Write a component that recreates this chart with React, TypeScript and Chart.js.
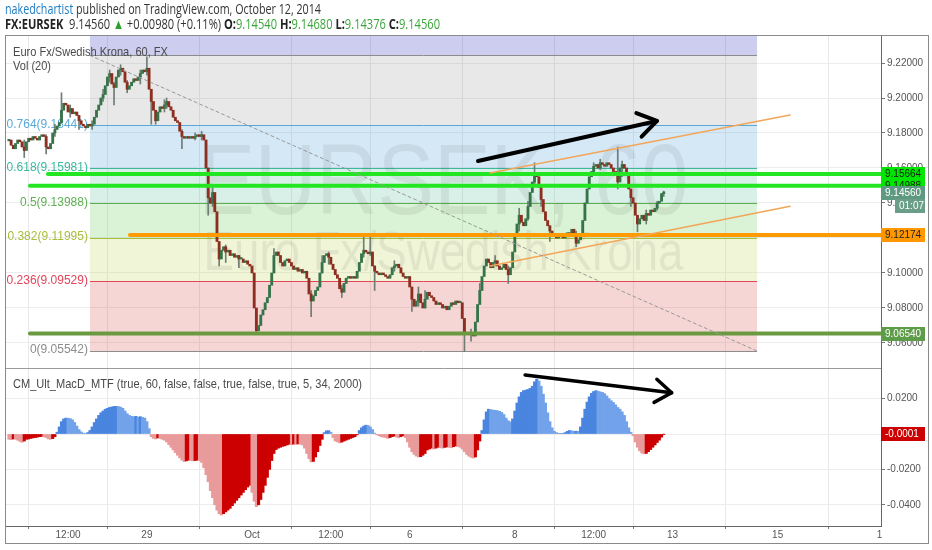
import React, { useEffect, useRef } from 'react';
import { Chart, registerables } from 'chart.js';

Chart.register(...registerables);

// ---------------- data ----------------
// hour index of the first bar, relative to Oct 1 00:00 (weekend hours removed)
const FIRST_HOUR = -111;
const FIRST_OPEN = 9.1755;
const CLOSES = [
  9.176, 9.173, 9.171, 9.174, 9.176, 9.175, 9.172, 9.170, 9.175, 9.177,
  9.176, 9.178, 9.177, 9.176, 9.178, 9.179, 9.178, 9.172, 9.171, 9.174,
  9.180, 9.182, 9.184, 9.186, 9.193, 9.197, 9.196, 9.192, 9.194, 9.191,
  9.192, 9.190, 9.187, 9.185, 9.184, 9.183, 9.185, 9.184, 9.185, 9.189,
  9.193, 9.196, 9.200, 9.202, 9.207, 9.212, 9.214, 9.208, 9.206, 9.212,
  9.216, 9.217, 9.215, 9.209, 9.205, 9.207, 9.209, 9.211, 9.210, 9.212,
  9.214, 9.216, 9.215, 9.217, 9.205, 9.198, 9.193, 9.187, 9.192, 9.195,
  9.194, 9.196, 9.198, 9.195, 9.193, 9.189, 9.187, 9.186, 9.181, 9.178,
  9.177, 9.178, 9.177, 9.178, 9.177, 9.178, 9.179, 9.178, 9.179, 9.176,
  9.160, 9.143, 9.140, 9.146, 9.135, 9.118, 9.108, 9.113, 9.115, 9.112,
  9.113, 9.110, 9.111, 9.109, 9.110, 9.108, 9.108, 9.106, 9.107, 9.105,
  9.104, 9.100, 9.080, 9.067, 9.070, 9.076, 9.079, 9.083, 9.086, 9.093,
  9.100, 9.110, 9.112, 9.110, 9.106, 9.104, 9.107, 9.108, 9.106, 9.104,
  9.102, 9.103, 9.101, 9.102, 9.100, 9.101, 9.097, 9.088, 9.084, 9.087,
  9.090, 9.092, 9.100, 9.106, 9.110, 9.111, 9.109, 9.105, 9.102, 9.099,
  9.097, 9.091, 9.089, 9.094, 9.097, 9.098, 9.097, 9.098, 9.097, 9.101,
  9.106, 9.111, 9.113, 9.112, 9.111, 9.112, 9.104, 9.101, 9.100, 9.099,
  9.100, 9.099, 9.098, 9.097, 9.099, 9.103, 9.104, 9.105, 9.103, 9.100,
  9.098, 9.097, 9.098, 9.092, 9.085, 9.081, 9.084, 9.088, 9.083, 9.080,
  9.085, 9.089, 9.087, 9.086, 9.084, 9.082, 9.083, 9.082, 9.080, 9.081,
  9.079, 9.081, 9.083, 9.082, 9.084, 9.083, 9.083, 9.074, 9.066, 9.065,
  9.066, 9.065, 9.064, 9.072, 9.082, 9.090, 9.098, 9.104, 9.108, 9.106,
  9.103, 9.106, 9.107, 9.104, 9.102, 9.103, 9.105, 9.102, 9.099, 9.103,
  9.112, 9.122, 9.128, 9.133, 9.129, 9.127, 9.131, 9.138, 9.146, 9.152,
  9.156, 9.155, 9.149, 9.142, 9.135, 9.130, 9.127, 9.124, 9.121, 9.122,
  9.120, 9.121, 9.122, 9.120, 9.121, 9.123, 9.122, 9.125, 9.122, 9.117,
  9.119, 9.121, 9.130, 9.140, 9.148, 9.155, 9.158, 9.161, 9.162, 9.160,
  9.163, 9.162, 9.161, 9.163, 9.162, 9.160, 9.158, 9.156, 9.152, 9.160,
  9.162, 9.160, 9.156, 9.148, 9.143, 9.140, 9.133, 9.128, 9.131, 9.133,
  9.130, 9.134, 9.133, 9.136, 9.135, 9.137, 9.140, 9.141, 9.1454, 9.1456,
];
// [bar index, high, low] for bars whose wicks reach beyond the body
const WICKS = [
  [7, 9.176, 9.166], [17, 9.179, 9.168], [21, 9.185, 9.178], [24, 9.203, 9.186],
  [28, 9.196, 9.189], [32, 9.19, 9.182], [38, 9.187, 9.182], [43, 9.205, 9.198],
  [46, 9.216, 9.209], [48, 9.209, 9.196], [51, 9.219, 9.213], [54, 9.21, 9.203],
  [60, 9.216, 9.208], [63, 9.2235, 9.213], [65, 9.204, 9.185], [67, 9.19, 9.185],
  [71, 9.199, 9.192], [72, 9.2, 9.194], [79, 9.182, 9.171], [85, 9.18, 9.176],
  [88, 9.181, 9.176], [91, 9.146, 9.133], [93, 9.15, 9.138], [96, 9.114, 9.104],
  [99, 9.116, 9.106], [105, 9.11, 9.103], [113, 9.072, 9.066], [121, 9.114, 9.108],
  [138, 9.09, 9.075], [143, 9.11, 9.1], [146, 9.112, 9.105], [152, 9.093, 9.086],
  [162, 9.122, 9.109], [165, 9.122, 9.11], [167, 9.104, 9.09], [176, 9.107, 9.101],
  [184, 9.092, 9.078], [187, 9.092, 9.081], [190, 9.09, 9.08], [208, 9.074, 9.055],
  [211, 9.068, 9.061], [215, 9.094, 9.085], [222, 9.11, 9.104], [228, 9.104, 9.094],
  [233, 9.137, 9.124], [237, 9.141, 9.13], [240, 9.163, 9.15], [243, 9.148, 9.138],
  [247, 9.127, 9.118], [259, 9.124, 9.115], [267, 9.163, 9.157], [270, 9.165, 9.159],
  [278, 9.172, 9.148], [280, 9.164, 9.155], [284, 9.147, 9.138], [287, 9.132, 9.1235],
  [291, 9.136, 9.128], [296, 9.141, 9.136], [299, 9.1468, 9.14376],
];
const MACD_HIST = [
  -0.0030, -0.0032, -0.0028, -0.0030, -0.0035, -0.0042, -0.0047, -0.0040, -0.0030, -0.0028,
  -0.0025, -0.0022, -0.0020, -0.0018, -0.0015, -0.0014, -0.0016, -0.0020, -0.0028, -0.0030,
  -0.0026, -0.0015, 0.0010, 0.0040, 0.0070, 0.0085, 0.0090, 0.0089, 0.0087, 0.0080,
  0.0065, 0.0045, 0.0025, 0.0012, 0.0005, 0.0003, 0.0008, 0.0020, 0.0040, 0.0065,
  0.0085, 0.0105, 0.0120, 0.0130, 0.0140, 0.0145, 0.0150, 0.0153, 0.0156, 0.0156,
  0.0155, 0.0152, 0.0145, 0.0130, 0.0115, 0.0105, 0.0100, 0.0098, 0.0100, 0.0095,
  0.0098, 0.0094, 0.0090, 0.0070, 0.0030, -0.0015, -0.0025, -0.0028, -0.0022, -0.0025,
  -0.0030, -0.0035, -0.0045, -0.0060, -0.0075, -0.0090, -0.0105, -0.0120, -0.0135, -0.0148,
  -0.0156, -0.0152, -0.0148, -0.0150, -0.0152, -0.0150, -0.0148, -0.0150, -0.0160, -0.0190,
  -0.0230, -0.0270, -0.0320, -0.0360, -0.0400, -0.0430, -0.0450, -0.0458, -0.0450, -0.0440,
  -0.0430, -0.0420, -0.0405, -0.0390, -0.0375, -0.0360, -0.0345, -0.0330, -0.0315, -0.0300,
  -0.0290, -0.0330, -0.0380, -0.0410, -0.0400, -0.0370, -0.0330, -0.0290, -0.0245, -0.0200,
  -0.0150, -0.0110, -0.0088, -0.0080, -0.0075, -0.0070, -0.0067, -0.0062, -0.0058, -0.0060,
  -0.0057, -0.0059, -0.0056, -0.0058, -0.0062, -0.0080, -0.0110, -0.0140, -0.0158, -0.0155,
  -0.0130, -0.0100, -0.0065, -0.0030, 0.0008, 0.0018, 0.0019, 0.0010, -0.0020, -0.0040,
  -0.0045, -0.0050, -0.0046, -0.0040, -0.0035, -0.0030, -0.0025, -0.0020, -0.0015, -0.0005,
  0.0020, 0.0035, 0.0045, 0.0050, 0.0048, 0.0040, 0.0025, 0.0005, -0.0005, -0.0010,
  -0.0015, -0.0018, -0.0020, -0.0025, -0.0020, -0.0015, -0.0012, -0.0018, -0.0022, -0.0015,
  -0.0010, -0.0020, -0.0045, -0.0075, -0.0100, -0.0115, -0.0125, -0.0130, -0.0128, -0.0120,
  -0.0110, -0.0090, -0.0085, -0.0080, -0.0085, -0.0080, -0.0075, -0.0078, -0.0080, -0.0076,
  -0.0073, -0.0075, -0.0078, -0.0072, -0.0068, -0.0070, -0.0075, -0.0085, -0.0100, -0.0115,
  -0.0125, -0.0132, -0.0136, -0.0130, -0.0090, -0.0040, 0.0020, 0.0080, 0.0125, 0.0140,
  0.0138, 0.0135, 0.0134, 0.0132, 0.0128, 0.0122, 0.0110, 0.0090, 0.0075, 0.0068,
  0.0085, 0.0130, 0.0175, 0.0210, 0.0235, 0.0245, 0.0248, 0.0252, 0.0258, 0.0270,
  0.0295, 0.0310, 0.0300, 0.0270, 0.0225, 0.0175, 0.0120, 0.0070, 0.0035, 0.0015,
  0.0008, 0.0004, 0.0002, 0.0003, 0.0008, 0.0015, 0.0020, 0.0018, 0.0015, 0.0016,
  0.0015, 0.0040, 0.0090, 0.0140, 0.0180, 0.0210, 0.0230, 0.0240, 0.0245, 0.0242,
  0.0238, 0.0235, 0.0228, 0.0215, 0.0200, 0.0188, 0.0178, 0.0165, 0.0150, 0.0140,
  0.0125, 0.0105, 0.0070, 0.0035, 0.0010, -0.0010, -0.0045, -0.0075, -0.0095, -0.0108,
  -0.0112, -0.0110, -0.0100, -0.0088, -0.0075, -0.0062, -0.0048, -0.0035, -0.0018, -0.0001,
];

const PRICE_TICKS = [9.06, 9.08, 9.1, 9.12, 9.14, 9.16, 9.18, 9.2, 9.22];
const MACD_TICKS = [0.02, 0, -0.02, -0.04];
const TIME_TICKS = [-84, -48, 0, 36, 72, 120, 156, 192, 240, 286.5];
const TIME_LABELS = ['12:00', '29', 'Oct', '12:00', '6', '8', '12:00', '13', '15', '1'];

const FIB_RATIOS = ['1', '0.764', '0.618', '0.5', '0.382', '0.236', '0'];
const FIB_PRICES = [9.22435, 9.18441, 9.15981, 9.13988, 9.11995, 9.09529, 9.05542];
const FIB_SPAN = [-74, 230.6];

const LEVEL_PRICES = [9.15664, 9.14988, 9.12174, 9.0654];
const LEVEL_STARTS = [-93.2, -101.4, -55.7, -101.4];

const CHANNEL_UPPER = [[108.7, 9.1571], [245.7, 9.1903]];
const CHANNEL_LOWER = [[108.7, 9.104], [245.7, 9.1382]];
const FIB_TREND = [[-74, 9.22435], [230.6, 9.05542]];
const ARROW_PRICE = [[103.2, 9.164], [184.9, 9.1869]];
const ARROW_MACD = [[124.7, 0.0333], [191.6, 0.0233]];

const LAST_PRICE = 9.1456;
const BAR_COUNTDOWN = '01:07';
const MACD_LAST = -0.0001;

// ---------------- styles ----------------
const FONT = '"Liberation Sans", Arial, sans-serif';
const HFONT = '"Open Sans", "Liberation Sans", sans-serif';
const FIB_FILLS = [
  'rgba(55,55,195,0.25)', 'rgba(150,150,150,0.22)', 'rgba(87,163,215,0.25)',
  'rgba(99,195,160,0.25)', 'rgba(107,203,87,0.25)', 'rgba(195,215,95,0.25)', 'rgba(219,87,87,0.25)',
];
const FIB_COLORS = ['#8c8c8c', '#5aa8d8', '#3ab8a0', '#5cb052', '#a9bd3c', '#e2445a', '#8c8c8c'];
const LEVEL_COLORS = ['#22e622', '#22e622', '#ff9a00', '#6a9a40'];
const TAG_BG = ['#00e600', '#00e600', '#ff9800', '#5d9c49'];
const TAG_FG = ['#1a1a1a', '#1a1a1a', '#222', '#fff'];

const HEADER1 = [
  { t: 'nakedchartist', c: '#1f7cc2' },
  { t: ' published on TradingView.com, October 12, 2014', c: '#333' },
];
const HEADER2 = [
  { t: 'FX:EURSEK', c: '#222', b: true },
  { t: '  9.14560 ', c: '#333' },
  { t: '\u25B2', c: '#2ca02c' },
  { t: ' +0.00980 (+0.11%) ', c: '#333' },
  { t: 'O:', c: '#222', b: true },
  { t: '9.14540', c: '#3aa53a' },
  { t: ' H:', c: '#222', b: true },
  { t: '9.14680', c: '#3aa53a' },
  { t: ' L:', c: '#222', b: true },
  { t: '9.14376', c: '#3aa53a' },
  { t: ' C:', c: '#222', b: true },
  { t: '9.14560', c: '#3aa53a' },
];

function drawSegs(ctx: any, segs: any[], x: number, y: number, targetW: number, size: number, family: string) {
  ctx.save();
  ctx.textBaseline = 'middle';
  ctx.textAlign = 'left';
  let total = 0;
  for (const s of segs) {
    ctx.font = `${s.b ? 'bold ' : ''}${size}px ${family}`;
    total += ctx.measureText(s.t).width;
  }
  ctx.translate(x, y);
  ctx.scale(targetW / total, 1);
  let cx = 0;
  for (const s of segs) {
    ctx.font = `${s.b ? 'bold ' : ''}${size}px ${family}`;
    ctx.fillStyle = s.c;
    ctx.fillText(s.t, cx, 0);
    cx += ctx.measureText(s.t).width;
  }
  ctx.restore();
}

function tag(ctx: any, yPix: number, text: string, bg: string, fg: string, x: number, w: number) {
  const top = Math.round(yPix - 7);
  ctx.fillStyle = bg;
  ctx.fillRect(x, top, w, 14);
  ctx.fillStyle = fg;
  ctx.font = `10px ${FONT}`;
  ctx.textBaseline = 'middle';
  ctx.textAlign = 'left';
  ctx.fillText(text, x + 4, top + 7.5);
}

function arrowHead(ctx: any, pts: number[][], len: number, spread: number, width: number) {
  const [a, b] = pts;
  const ang = Math.atan2(b[1] - a[1], b[0] - a[0]) + Math.PI;
  ctx.save();
  ctx.strokeStyle = '#000';
  ctx.lineWidth = width;
  ctx.lineCap = 'round';
  ctx.lineJoin = 'round';
  ctx.beginPath();
  ctx.moveTo(b[0] + Math.cos(ang - spread) * len, b[1] + Math.sin(ang - spread) * len);
  ctx.lineTo(b[0], b[1]);
  ctx.lineTo(b[0] + Math.cos(ang + spread) * len, b[1] + Math.sin(ang + spread) * len);
  ctx.stroke();
  ctx.restore();
}

const overlay = {
  id: 'overlay',
  beforeDraw(chart: any) {
    const { ctx } = chart;
    ctx.save();
    ctx.fillStyle = '#fff';
    ctx.fillRect(0, 0, chart.width, chart.height);
    ctx.restore();
    drawSegs(ctx, HEADER1, 5, 10, 316, 14, HFONT);
    drawSegs(ctx, HEADER2, 5, 25, 435, 14, HFONT);
  },
  beforeDatasetsDraw(chart: any) {
    const { ctx, chartArea: ca } = chart;
    const x = chart.scales.x;
    const y = chart.scales.y;
    const xa = x.getPixelForValue(FIB_SPAN[0]);
    const xb = x.getPixelForValue(FIB_SPAN[1]);
    ctx.save();
    ctx.beginPath();
    ctx.rect(ca.left, y.top, ca.right - ca.left, y.bottom - y.top);
    ctx.clip();
    let prevY = y.top;
    FIB_PRICES.forEach((p, k) => {
      const py = y.getPixelForValue(p);
      ctx.fillStyle = FIB_FILLS[k];
      ctx.fillRect(xa, prevY, xb - xa, py - prevY);
      prevY = py;
    });
    FIB_PRICES.forEach((p, k) => {
      const py = Math.round(y.getPixelForValue(p)) + 0.5;
      ctx.strokeStyle = FIB_COLORS[k];
      ctx.lineWidth = 1;
      ctx.beginPath();
      ctx.moveTo(xa, py);
      ctx.lineTo(xb, py);
      ctx.stroke();
    });
    // watermark
    ctx.fillStyle = 'rgba(60,60,60,0.085)';
    ctx.textBaseline = 'alphabetic';
    ctx.textAlign = 'left';
    const cx = (ca.left + ca.right) / 2;
    const wm = [
      { t: 'EURSEK, 60', size: 100, w: 490, base: y.top + 178 },
      { t: 'Euro Fx/Swedish Krona', size: 56, w: 480, base: y.top + 234 },
    ];
    for (const m of wm) {
      ctx.font = `${m.size}px ${FONT}`;
      const nat = ctx.measureText(m.t).width;
      ctx.save();
      ctx.translate(cx - m.w / 2, m.base);
      ctx.scale(m.w / nat, 1);
      ctx.fillText(m.t, 0, 0);
      ctx.restore();
    }
    ctx.restore();
    // fib labels
    ctx.save();
    ctx.beginPath();
    ctx.rect(ca.left, y.top, ca.right - ca.left, y.bottom - y.top);
    ctx.clip();
    ctx.font = `12px ${FONT}`;
    ctx.textAlign = 'right';
    ctx.textBaseline = 'middle';
    FIB_PRICES.forEach((p, k) => {
      if (k === 0) return;
      ctx.fillStyle = FIB_COLORS[k];
      ctx.fillText(`${FIB_RATIOS[k]}(${p.toFixed(5)})`, xa - 2, y.getPixelForValue(p) - 1);
    });
    ctx.restore();
  },
  afterDatasetsDraw(chart: any) {
    const { ctx, chartArea: ca } = chart;
    const x = chart.scales.x;
    const y = chart.scales.y;
    const y2 = chart.scales.y2;
    const toPx = (pts: number[][], s: any) => pts.map((p) => [x.getPixelForValue(p[0]), s.getPixelForValue(p[1])]);
    arrowHead(ctx, toPx(ARROW_PRICE, y), 22, 0.58, 4);
    arrowHead(ctx, toPx(ARROW_MACD, y2), 20, 0.62, 3.5);
    // pane titles
    drawSegs(ctx, [{ t: 'Euro Fx/Swedish Krona, 60, FX', c: '#4a4a4a' }], 13, 52, 155, 13, FONT);
    drawSegs(ctx, [{ t: 'Vol (20)', c: '#4a4a4a' }], 13, 66, 38, 13, FONT);
    drawSegs(ctx, [{ t: 'CM_Ult_MacD_MTF (true, 60, false, false, true, false, true, 5, 34, 2000)', c: '#4a4a4a' }], 13, 384, 349, 13, FONT);
    // pane separator and frame
    ctx.save();
    ctx.strokeStyle = '#9a9a9a';
    ctx.lineWidth = 1;
    ctx.beginPath();
    ctx.moveTo(ca.left, Math.round(y.bottom) + 0.5);
    ctx.lineTo(ca.right, Math.round(y.bottom) + 0.5);
    ctx.stroke();
    ctx.strokeStyle = '#8a8a8a';
    ctx.strokeRect(5.5, 35.5, 923, 508);
    ctx.restore();
  },
  afterDraw(chart: any) {
    const { ctx, chartArea: ca } = chart;
    const y = chart.scales.y;
    const y2 = chart.scales.y2;
    const tx = ca.right;
    ctx.save();
    const order = [1, 0, 2, 3];
    for (const k of order) {
      tag(ctx, y.getPixelForValue(LEVEL_PRICES[k]), LEVEL_PRICES[k].toFixed(5), TAG_BG[k], TAG_FG[k], tx, 44);
    }
    const ly = y.getPixelForValue(LAST_PRICE);
    tag(ctx, ly, LAST_PRICE.toFixed(5), '#5e9a82', '#fff', tx, 44);
    tag(ctx, ly + 13, BAR_COUNTDOWN, '#6a9e88', '#fff', tx + 14, 30);
    tag(ctx, y2.getPixelForValue(0), MACD_LAST.toFixed(4), '#cc0000', '#fff', tx, 44);
    ctx.restore();
  },
};

export default function App() {
  const ref = useRef<HTMLCanvasElement | null>(null);
  useEffect(() => {
    const canvas = ref.current;
    if (!canvas) return;
    const hours = CLOSES.map((_, i) => FIRST_HOUR + i);
    const opens = CLOSES.map((c, i) => (i === 0 ? FIRST_OPEN : CLOSES[i - 1]));
    const bodies = CLOSES.map((c, i) => ({ x: hours[i], y: [opens[i], c] }));
    const bodyColors = CLOSES.map((c, i) => (c >= opens[i] ? '#367349' : '#8c2e20'));
    const wicks = WICKS.map(([i, hi, lo]) => ({ x: hours[i], y: [lo, hi] }));
    const macd = MACD_HIST.map((v, i) => ({ x: hours[i], y: v }));
    const macdColors = MACD_HIST.map((v, i) => {
      const prev = i ? MACD_HIST[i - 1] : v;
      if (v >= 0) return v >= prev ? '#4a85df' : '#72a2ea';
      return v <= prev ? '#e99b9b' : '#cc0000';
    });
    const xMax = 287.2;
    const lineDs = (pts: number[][], axis: string, color: string, width: number, dash: number[] = []) => ({
      type: 'line',
      data: pts.map((p) => ({ x: p[0], y: p[1] })),
      yAxisID: axis,
      borderColor: color,
      borderWidth: width,
      borderDash: dash,
      pointRadius: 0,
      fill: false,
      tension: 0,
      order: 0,
      borderCapStyle: 'round',
    });
    const datasets: any[] = [
      {
        type: 'bar', data: wicks, yAxisID: 'y', backgroundColor: '#6f7d75',
        barThickness: 1, grouped: false, order: 5,
      },
      {
        type: 'bar', data: bodies, yAxisID: 'y', backgroundColor: bodyColors,
        barThickness: 2.2, grouped: false, minBarLength: 1.5, order: 4,
      },
      {
        type: 'bar', data: macd, yAxisID: 'y2', backgroundColor: macdColors,
        barThickness: 2.4, grouped: false, order: 4,
      },
      lineDs(FIB_TREND, 'y', '#9a9a9a', 1, [3, 3]),
      lineDs(CHANNEL_UPPER, 'y', '#f2a65a', 1.5),
      lineDs(CHANNEL_LOWER, 'y', '#f2a65a', 1.5),
      ...LEVEL_PRICES.map((p, k) => lineDs([[LEVEL_STARTS[k], p], [xMax, p]], 'y', LEVEL_COLORS[k], 4)),
      lineDs(ARROW_PRICE, 'y', '#000', 4),
      lineDs(ARROW_MACD, 'y2', '#000', 3.5),
    ];
    const tickFont = { family: FONT, size: 10 };
    const chart = new Chart(canvas, {
      type: 'bar',
      data: { datasets },
      plugins: [overlay],
      options: {
        animation: false,
        responsive: false,
        devicePixelRatio: 1,
        events: [],
        layout: { padding: { top: 36, right: 3, bottom: 7, left: 6 } },
        plugins: { legend: { display: false }, tooltip: { enabled: false } },
        scales: {
          x: {
            type: 'linear',
            min: -112.33,
            max: xMax,
            offset: false,
            afterBuildTicks: (s: any) => { s.ticks = TIME_TICKS.map((v) => ({ value: v })); },
            afterFit: (s: any) => { s.height = 17; },
            ticks: {
              autoSkip: false, maxRotation: 0, padding: 0, color: '#555', font: tickFont,
              callback: (_v: any, i: number) => TIME_LABELS[i],
            },
            grid: { color: '#e8e8e8', tickLength: 3, tickColor: '#777' },
            border: { color: '#666' },
          },
          y: {
            type: 'linear',
            position: 'right',
            stack: 'panes',
            stackWeight: 332,
            min: 9.04571,
            max: 9.23543,
            afterBuildTicks: (s: any) => { s.ticks = PRICE_TICKS.map((v) => ({ value: v })); },
            afterFit: (s: any) => { s.width = 48; },
            ticks: { color: '#555', font: tickFont, padding: 2, callback: (v: any) => Number(v).toFixed(5) },
            grid: { color: '#ececec', tickLength: 4, tickColor: '#777' },
            border: { color: '#666' },
          },
          y2: {
            type: 'linear',
            position: 'right',
            stack: 'panes',
            stackWeight: 158,
            min: -0.05198,
            max: 0.03729,
            afterBuildTicks: (s: any) => { s.ticks = MACD_TICKS.map((v) => ({ value: v })); },
            afterFit: (s: any) => { s.width = 48; },
            ticks: { color: '#555', font: tickFont, padding: 2, callback: (v: any) => Number(v).toFixed(4) },
            grid: { color: '#ececec', tickLength: 4, tickColor: '#777' },
            border: { color: '#666' },
          },
        },
      } as any,
    } as any);
    return () => chart.destroy();
  }, []);
  return (
    <div style={{ position: 'fixed', left: 0, top: 0, width: 932, height: 550, background: '#fff' }}>
      <canvas ref={ref} width={932} height={550} style={{ display: 'block', width: 932, height: 550 }} />
    </div>
  );
}
